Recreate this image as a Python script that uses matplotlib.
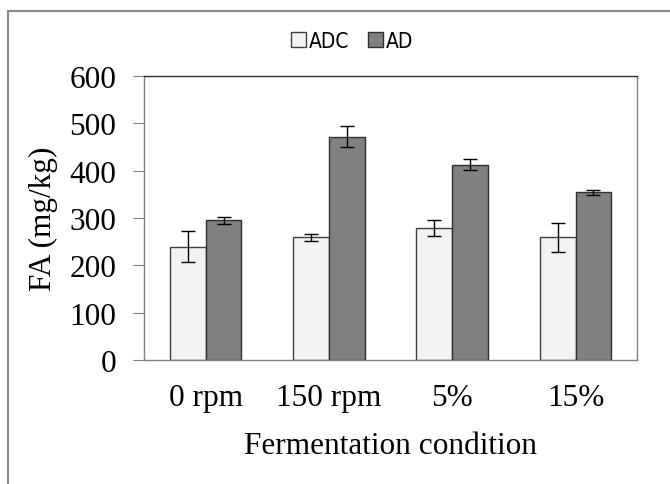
import matplotlib.pyplot as plt
import numpy as np
from matplotlib.patches import Rectangle

conditions = ["0 rpm", "150 rpm", "5%", "15%"]
adc_values = [239, 259, 278, 259]
adc_errors = [33, 8, 17, 31]
ad_values = [295, 472, 413, 354]
ad_errors = [7, 22, 11, 6]
y_ticks = [0, 100, 200, 300, 400, 500, 600]

SERIF = ["Liberation Serif", "DejaVu Serif"]
FS = 22.5


def run() -> None:
    fig = plt.figure(figsize=(6.7, 4.85), dpi=100)
    ax = fig.add_axes((0.215, 0.256, 0.736, 0.585))

    x = np.arange(len(conditions))
    width = 0.29
    err_kw = dict(ecolor="black", elinewidth=1.0, capsize=5, capthick=1.0)
    ax.bar(x - width / 2, adc_values, width, yerr=adc_errors,
           color="#f2f2f2", edgecolor="#404040", linewidth=1.0,
           error_kw=err_kw, label="ADC", zorder=2)
    ax.bar(x + width / 2, ad_values, width, yerr=ad_errors,
           color="#808080", edgecolor="#303030", linewidth=1.0,
           error_kw=err_kw, label="AD", zorder=2)

    ax.set_xlim(-0.5, len(conditions) - 0.5)
    ax.set_ylim(0, 600)
    ax.set_yticks(y_ticks)
    ax.set_xticks(x)
    ax.set_xticklabels(conditions, family=SERIF, fontsize=FS)
    ax.set_yticklabels([str(t) for t in y_ticks], family=SERIF, fontsize=FS)
    ax.tick_params(axis="y", length=8, color="#808080", pad=12)
    ax.tick_params(axis="x", length=0, pad=17)

    ax.set_xlabel("Fermentation condition", family=SERIF, fontsize=FS)
    ax.set_ylabel("FA (mg/kg)", family=SERIF, fontsize=FS)
    ax.xaxis.set_label_coords(0.5, -0.25)
    ax.yaxis.set_label_coords(-0.175, 0.5)

    for side in ["left", "right", "bottom"]:
        ax.spines[side].set_color("#808080")
        ax.spines[side].set_linewidth(1.0)
    ax.spines["top"].set_color("#303030")
    ax.spines["top"].set_linewidth(1.0)

    ax.legend(loc="center", bbox_to_anchor=(352 / 670, 1 - 42 / 485),
              bbox_transform=fig.transFigure, ncol=2, frameon=False,
              handlelength=0.7, handleheight=0.7, handletextpad=0.15,
              columnspacing=0.9,
              prop={"family": "DejaVu Sans", "stretch": "condensed",
                    "size": 15})

    # outer chart border (cropped on the right and bottom)
    fig.patches.append(Rectangle((8 / 670, -0.1), 1.2, 1.1 - 12 / 485,
                                 transform=fig.transFigure, fill=False,
                                 edgecolor="#8a8a8a", linewidth=1.5))

    fig.savefig("out.png", dpi=100)
    plt.close(fig)


if __name__ == "__main__":
    run()
